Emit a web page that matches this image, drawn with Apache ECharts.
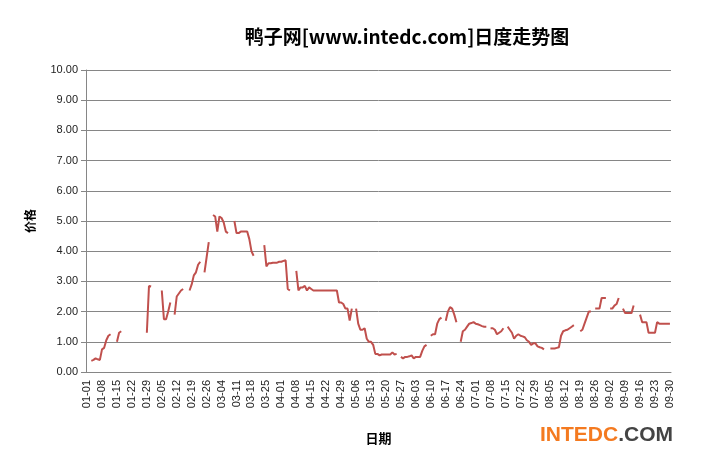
<!DOCTYPE html>
<html><head><meta charset="utf-8">
<script src="https://cdn.jsdelivr.net/npm/echarts@6/dist/echarts.min.js"></script>
<style>html,body{margin:0;padding:0;background:#fff}#c{width:702px;height:458px}</style>
</head><body><div id="c"></div>
<script>
// Data segments: [start day index (0 = 01-01), values...]
const seg01 = [2, 0.37,0.40,0.45,0.42,0.40,0.75,0.80,1.05,1.20,1.25];
const seg02 = [14, 1.00,1.30,1.35];
const seg03 = [28, 1.30,2.85,2.83];
const seg04 = [35, 2.70,1.75,1.75];
const seg05 = [38, 2.00,2.30];
const seg06 = [41, 1.90,2.50,2.60,2.70,2.75];
const seg07 = [48, 2.70,2.90,3.20,3.30,3.55,3.65];
const seg08 = [55, 3.30,3.80,4.30];
const seg09 = [59, 5.20,5.15,4.65,5.15,5.10,4.95,4.65,4.60];
const seg10 = [69, 5.00,4.60,4.60,4.65,4.65,4.65,4.65,4.40,4.00,3.85];
const seg11 = [83, 4.20,3.50,3.60,3.60,3.62,3.62,3.62,3.65,3.65,3.68,3.70,2.75,2.70];
const seg12 = [98, 3.35,2.70,2.80,2.80,2.85,2.70,2.80,2.75,2.70,2.70,2.70,2.70,2.70,2.70,2.70,2.70,2.70,2.70,2.70,2.70,2.30,2.30,2.25,2.10,2.10,1.70,2.10];
const seg13 = [126, 2.10,1.60,1.40,1.40,1.45,1.10,1.00,1.00,0.90,0.60,0.60,0.55,0.58,0.58,0.58,0.58,0.58,0.65,0.58,0.60];
const seg14 = [147, 0.50,0.45,0.50,0.50,0.52,0.55,0.45,0.50,0.50,0.50,0.70,0.85,0.90];
const seg15 = [161, 1.20,1.25,1.25,1.60,1.75,1.80];
const seg16 = [168, 1.70,2.00,2.15,2.10,1.90,1.65];
const seg17 = [175, 1.00,1.35,1.40,1.50,1.60,1.62,1.65,1.60,1.58,1.55,1.52,1.50,1.50];
const seg18 = [189, 1.45,1.45,1.40,1.25,1.30,1.35,1.45];
const seg19 = [197, 1.50,1.40,1.30,1.10,1.20,1.25];
const seg20 = [203, 1.20,1.18,1.15,1.05,1.00,0.90,0.95,0.95,0.85,0.82,0.80,0.75];
const seg21 = [217, 0.78,0.78,0.78,0.80,0.82,1.20,1.35,1.38,1.40,1.45,1.50,1.55];
const seg22 = [231, 1.35,1.40,1.60,1.80,2.00,2.00];
const seg23 = [238, 2.10,2.10,2.10,2.45,2.45,2.45];
const seg24 = [245, 2.10,2.10,2.20,2.25,2.45];
const seg25 = [251, 2.10,1.95,1.95,1.95,1.95,2.20];
const seg26 = [259, 1.90,1.65,1.65,1.65,1.30,1.30,1.30,1.30,1.65,1.60,1.60,1.60,1.60,1.60,1.60];
const segments = [seg01,seg02,seg03,seg04,seg05,seg06,seg07,seg08,seg09,seg10,seg11,seg12,seg13,seg14,seg15,seg16,seg17,seg18,seg19,seg20,seg21,seg22,seg23,seg24,seg25,seg26];

// Categories: every day 01-01..09-30 (leap year)
const monthDays = [31,29,31,30,31,30,31,31,30];
const categories = [];
monthDays.forEach((n,m)=>{for(let d=1;d<=n;d++)categories.push(String(m+1).padStart(2,'0')+'-'+String(d).padStart(2,'0'));});
const values = categories.map(()=>null);
segments.forEach(s=>{for(let i=1;i<s.length;i++)values[s[0]+i-1]=s[i];});

const chart = echarts.init(document.getElementById('c'));
chart.setOption({
  animation:false,
  title:{text:'鸭子网[www.intedc.com]日度走势图',left:402,top:22,textAlign:'center',
    textStyle:{fontSize:19,fontWeight:'bold',color:'#000',fontFamily:'Noto Sans CJK SC'}},
  grid:{left:86,right:31,top:70,bottom:86},
  xAxis:{type:'category',data:categories,boundaryGap:true,
    name:'日期',nameLocation:'middle',nameGap:60,
    nameTextStyle:{fontSize:13,fontWeight:'bold',color:'#000',fontFamily:'Noto Sans CJK SC'},
    axisLine:{lineStyle:{color:'#868686'}},
    axisTick:{interval:6,lineStyle:{color:'#868686'}},
    axisLabel:{interval:6,rotate:90,fontSize:11,color:'#222',fontFamily:'Liberation Sans'},
    splitLine:{show:false}},
  yAxis:{type:'value',min:0,max:10,interval:1,
    name:'价格',nameLocation:'middle',nameGap:50,nameRotate:90,
    nameTextStyle:{fontSize:12,fontWeight:'bold',color:'#000',fontFamily:'Noto Sans CJK SC'},
    axisLine:{show:true,lineStyle:{color:'#868686'}},
    axisTick:{show:true,lineStyle:{color:'#868686'}},
    axisLabel:{formatter:v=>v.toFixed(2),fontSize:11,color:'#222',fontFamily:'Liberation Sans'},
    splitLine:{lineStyle:{color:'#868686'}}},
  series:[{type:'line',data:values,showSymbol:false,connectNulls:false,
    lineStyle:{color:'#c0504d',width:2},itemStyle:{color:'#c0504d'}}],
  graphic:[{type:'text',left:540,top:425,style:{rich:{a:{fill:'#f47a20',fontSize:21,fontWeight:'bold',fontFamily:'Liberation Sans'},b:{fill:'#444',fontSize:21,fontWeight:'bold',fontFamily:'Liberation Sans'}},text:'{a|INTEDC}{b|.COM}'}}]
});
</script></body></html>
